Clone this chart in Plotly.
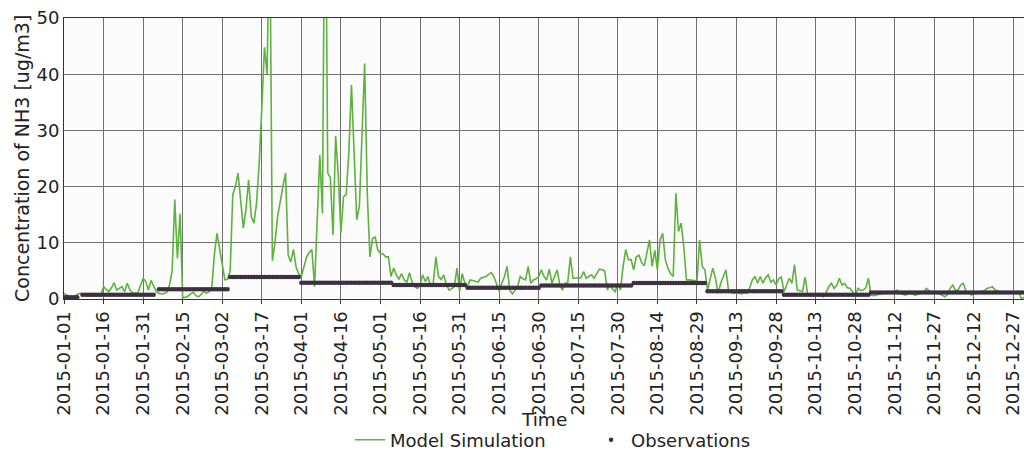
import pandas as pd
import plotly.graph_objects as go

# ---------------- data ----------------
model_jan = [1.0,0.7,0.4,0.3,0.4,0.8,1.0,0.9,0.7,0.6,0.5,0.5,0.6,0.5,0.7,2.2,1.7,1.3,2.0,2.9,
             1.6,1.9,2.2,1.3,2.8,1.6,1.1,1.0,1.1,2.4,3.7]
model_feb = [3.1,1.6,3.3,2.2,1.3,1.0,0.9,1.0,1.2,2.5,5.0,17.7,7.2,15.2,0.2,0.3,0.5,0.9,1.2,0.6,
             0.4,0.8,1.4,1.0,1.3,1.8,7.8,11.7]
model_mar = [9.0,6.4,3.4,3.5,5.0,18.6,20.0,22.4,18.0,12.6,16.0,21.2,14.7,13.5,17.0,24.0,34.0,44.8,40.0,70.0,
             6.8,10.0,14.7,17.7,20.0,22.4,7.8,6.6,8.8,5.7,4.5]
model_apr = [4.0,6.0,7.5,8.3,8.8,2.2,14.0,25.6,15.2,85.0,22.4,21.6,11.4,29.0,22.0,11.8,18.2,18.6,26.0,38.1,
             26.0,14.1,16.5,30.0,41.9,18.6,7.5,10.8,11.0,8.7]
model_may = [8.1,8.0,7.5,7.5,4.0,5.5,4.3,3.5,4.5,3.4,3.0,4.7,3.0,2.2,1.9,2.5,4.3,3.1,4.0,2.2,
             2.8,7.5,4.0,3.5,4.3,2.5,1.6,1.8,2.2,5.5,1.4]
model_jun = [4.5,2.8,2.2,3.4,3.3,3.1,3.0,3.7,3.9,4.0,4.4,4.7,4.0,2.5,1.4,2.8,4.0,5.8,1.6,0.9,
             1.5,2.2,4.0,3.6,3.4,5.8,2.8,3.4,3.6,4.0]
model_jul = [5.2,4.0,3.4,5.3,2.8,4.0,5.2,2.5,1.6,2.8,2.9,7.5,3.7,3.7,3.7,3.8,4.9,3.7,4.0,4.3,
             3.7,4.5,5.3,5.2,5.0,1.6,2.5,1.8,1.3,2.8,1.6]
model_aug = [5.8,8.8,7.0,7.0,5.2,7.5,7.8,6.5,5.9,8.0,10.5,5.8,8.7,5.2,10.5,11.7,7.0,5.5,4.5,4.0,
             18.8,12.0,13.5,9.3,3.4,3.4,3.4,3.3,3.1,10.5,5.8]
model_sep = [5.2,1.6,3.4,5.5,3.7,1.0,2.8,4.0,5.2,1.3,1.2,1.0,1.1,1.0,0.9,1.1,1.0,2.0,3.4,4.0,
             2.8,4.0,2.8,3.8,4.3,3.0,3.4,2.5,3.6,3.9]
model_oct = [1.3,2.5,3.7,2.8,6.1,1.6,1.5,1.3,3.9,0.7,0.8,0.7,0.9,1.0,0.6,0.4,1.2,2.2,2.8,1.9,
             2.4,3.7,2.5,2.8,2.0,1.9,1.3,0.4,1.9,1.5,1.6]
model_nov = [2.0,3.7,0.7,0.6,0.7,0.9,1.0,1.0,1.2,1.3,1.1,1.4,1.6,1.0,0.8,0.7,0.9,1.0,0.8,0.7,
             0.9,1.2,1.3,1.9,1.5,1.0,1.1,1.3,0.9,0.7]
model_dec = [0.4,0.8,1.9,2.5,1.5,1.6,2.5,2.8,1.4,1.2,0.7,0.9,1.0,1.2,1.3,1.5,1.9,2.0,2.2,1.6,
             1.4,1.3,1.2,1.3,1.2,1.3,1.3,1.2,1.3,0.1,0.3]

model_values = (model_jan + model_feb + model_mar + model_apr + model_may + model_jun +
                model_jul + model_aug + model_sep + model_oct + model_nov + model_dec)
model_dates = pd.date_range("2015-01-01", periods=len(model_values), freq="D")

obs_start = ["2015-01-01", "2015-01-08", "2015-02-06", "2015-03-05", "2015-04-01", "2015-05-06",
             "2015-06-03", "2015-07-01", "2015-08-05", "2015-09-02", "2015-10-01", "2015-11-03",
             "2015-12-02"]
obs_end = ["2015-01-06", "2015-02-04", "2015-03-04", "2015-03-31", "2015-05-05", "2015-06-02",
           "2015-06-30", "2015-08-04", "2015-09-01", "2015-09-30", "2015-11-02", "2015-12-01",
           "2015-12-31"]
obs_value = [0.3, 0.75, 1.75, 3.9, 2.9, 2.5, 2.0, 2.4, 2.85, 1.4, 0.75, 1.15, 1.15]

tick_labels = ["2015-01-01", "2015-01-16", "2015-01-31", "2015-02-15", "2015-03-02", "2015-03-17",
               "2015-04-01", "2015-04-16", "2015-05-01", "2015-05-16", "2015-05-31", "2015-06-15",
               "2015-06-30", "2015-07-15", "2015-07-30", "2015-08-14", "2015-08-29", "2015-09-13",
               "2015-09-28", "2015-10-13", "2015-10-28", "2015-11-12", "2015-11-27", "2015-12-12",
               "2015-12-27"]

# observations: one point per day of each sampling period
obs_x, obs_y = [], []
for s, e, v in zip(obs_start, obs_end, obs_value):
    days = pd.date_range(s, e, freq="D")
    obs_x.extend(days)
    obs_y.extend([v] * len(days))

# ---------------- figure ----------------
FONT = "DejaVu Sans"
fig = go.Figure()
fig.add_trace(go.Scatter(x=model_dates, y=model_values, mode="lines", name="Model Simulation",
                         line=dict(color="#5db33d", width=1.6)))
fig.add_trace(go.Scatter(x=obs_x, y=obs_y, mode="markers", name="Observations",
                         marker=dict(color="#3d3040", size=4.5, line=dict(width=0))))

fig.update_layout(
    width=1024, height=454,
    margin=dict(l=64, r=0, t=18, b=155, autoexpand=False),
    paper_bgcolor="white", plot_bgcolor="#fbfbfb",
    font=dict(family=FONT, size=18, color="#222222"),
    showlegend=True,
    legend=dict(orientation="h", x=0.298, xanchor="left", y=-0.502, yanchor="middle",
                font=dict(size=18), entrywidth=196, bgcolor="rgba(0,0,0,0)"),
)
fig.update_xaxes(
    range=["2015-01-01", "2015-12-31"], automargin=False,
    tickmode="array", tickvals=pd.to_datetime(tick_labels), ticktext=tick_labels, tickangle=-90,
    tickfont=dict(size=18), ticks="outside", ticklen=4, tickcolor="#333",
    showgrid=True, gridcolor="#707070", gridwidth=1,
    showline=True, linecolor="#333", linewidth=1, mirror=True, zeroline=False,
)
fig.update_yaxes(
    range=[0, 50], tickvals=[0, 10, 20, 30, 40, 50], tickfont=dict(size=18), automargin=False,
    ticks="", showgrid=True, gridcolor="#707070", gridwidth=1,
    showline=True, linecolor="#333", linewidth=1, mirror=True, zeroline=False,
)
fig.add_annotation(text="Time", xref="paper", yref="paper", x=0.5, y=-0.4306,
                   xanchor="center", yanchor="middle", showarrow=False, font=dict(size=18.5))
fig.add_annotation(text="Concentration of NH3 [ug/m3]", xref="paper", yref="paper",
                   x=(21.5 - 64) / 960, y=0.5, xanchor="center", yanchor="middle",
                   textangle=-90, showarrow=False, font=dict(size=19))

fig.write_html("out.html")
